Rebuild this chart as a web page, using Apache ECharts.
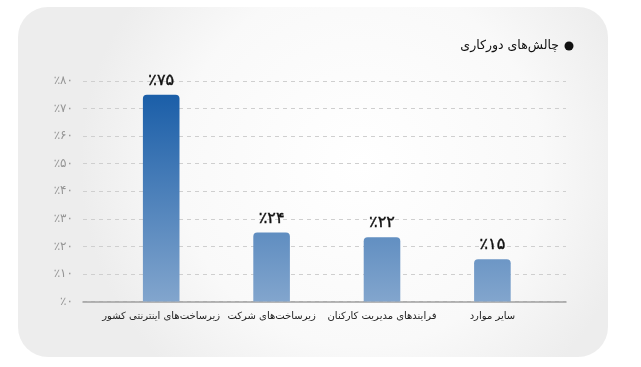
<!DOCTYPE html>
<html>
<head>
<meta charset="utf-8">
<script src="https://cdn.jsdelivr.net/npm/echarts@6/dist/echarts.min.js"></script>
<style>
html,body{margin:0;padding:0;background:#fff;}
#chart{width:641px;height:367px;}
</style>
</head>
<body>
<div id="chart"></div>
<script>
// Data
var categories = ['زیرساخت‌های اینترنتی کشور', 'زیرساخت‌های شرکت', 'فرایندهای مدیریت کارکنان', 'سایر موارد'];
var values = [75, 25, 23.3, 15.3];
var valueLabels = ['٪۷۵', '٪۲۴', '٪۲۲', '٪۱۵'];
var yTickLabels = {0:'٪۰',10:'٪۱۰',20:'٪۲۰',30:'٪۳۰',40:'٪۴۰',50:'٪۵۰',60:'٪۶۰',70:'٪۷۰',80:'٪۸۰'};
var titleText = 'چالش‌های دورکاری';

var FONT = '"DejaVu Sans", "Noto Sans", sans-serif';
var chart = echarts.init(document.getElementById('chart'), null, {renderer:'canvas'});

var barGradient = new echarts.graphic.LinearGradient(0, 94, 0, 301, [
  {offset:0, color:'#1a5ea8'},
  {offset:1, color:'#82a5cd'}
], true);

var option = {
  backgroundColor: '#ffffff',
  animation: false,
  graphic: [
    {
      type: 'rect', z: -10, silent: true,
      shape: {x: 18, y: 7, width: 590, height: 350, r: 30},
      style: {
        fill: new echarts.graphic.RadialGradient(0.58, 0.45, 0.8, [
          {offset: 0, color: '#ffffff'},
          {offset: 0.65, color: '#f9f9f9'},
          {offset: 1, color: '#ededed'}
        ])
      }
    },
    {
      type: 'circle', silent: true,
      shape: {cx: 569, cy: 46, r: 4.5},
      style: {fill: '#111'}
    },
    {
      type: 'text', silent: true,
      x: 559, y: 46,
      style: {
        text: titleText, align: 'right', verticalAlign: 'middle',
        font: '12.5px ' + FONT, fill: '#111'
      }
    }
  ],
  grid: [
    {left: 83, right: 75, top: 81, bottom: 65.5},
    {left: 106, width: 441.6, top: 81, bottom: 65.5}
  ],
  xAxis: [
    {
      type: 'category', gridIndex: 0, data: ['a'],
      axisLine: {show: true, lineStyle: {color: '#a0a0a0', width: 1.5}},
      axisTick: {show: false}, axisLabel: {show: false}, splitLine: {show: false}
    },
    {
      type: 'category', gridIndex: 1, data: categories,
      axisLine: {show: false}, axisTick: {show: false},
      axisLabel: {
        margin: 10, fontSize: 10, color: '#222', fontFamily: FONT, interval: 0
      }
    }
  ],
  yAxis: [
    {
      type: 'value', gridIndex: 0, min: 0, max: 80, interval: 10,
      axisLine: {show: false}, axisTick: {show: false},
      axisLabel: {
        margin: 10, fontSize: 12, color: '#959595', fontFamily: FONT,
        formatter: function (v) { return yTickLabels[v]; }
      },
      splitLine: {show: true, lineStyle: {color: '#cfcfcf', type: [4, 4], width: 1}}
    },
    {
      type: 'value', gridIndex: 1, min: 0, max: 80, interval: 10,
      show: false, splitLine: {show: false}
    }
  ],
  series: [
    {
      type: 'bar', xAxisIndex: 1, yAxisIndex: 1,
      data: values,
      barWidth: 36.6,
      itemStyle: {color: barGradient, borderRadius: [4, 4, 0, 0]},
      label: {
        show: true, position: 'top', distance: 6,
        fontSize: 16, fontWeight: 'normal', color: '#111', fontFamily: FONT,
        textBorderColor: '#111', textBorderWidth: 0.4,
        formatter: function (p) { return valueLabels[p.dataIndex]; }
      }
    }
  ]
};
chart.setOption(option);
</script>
</body>
</html>
